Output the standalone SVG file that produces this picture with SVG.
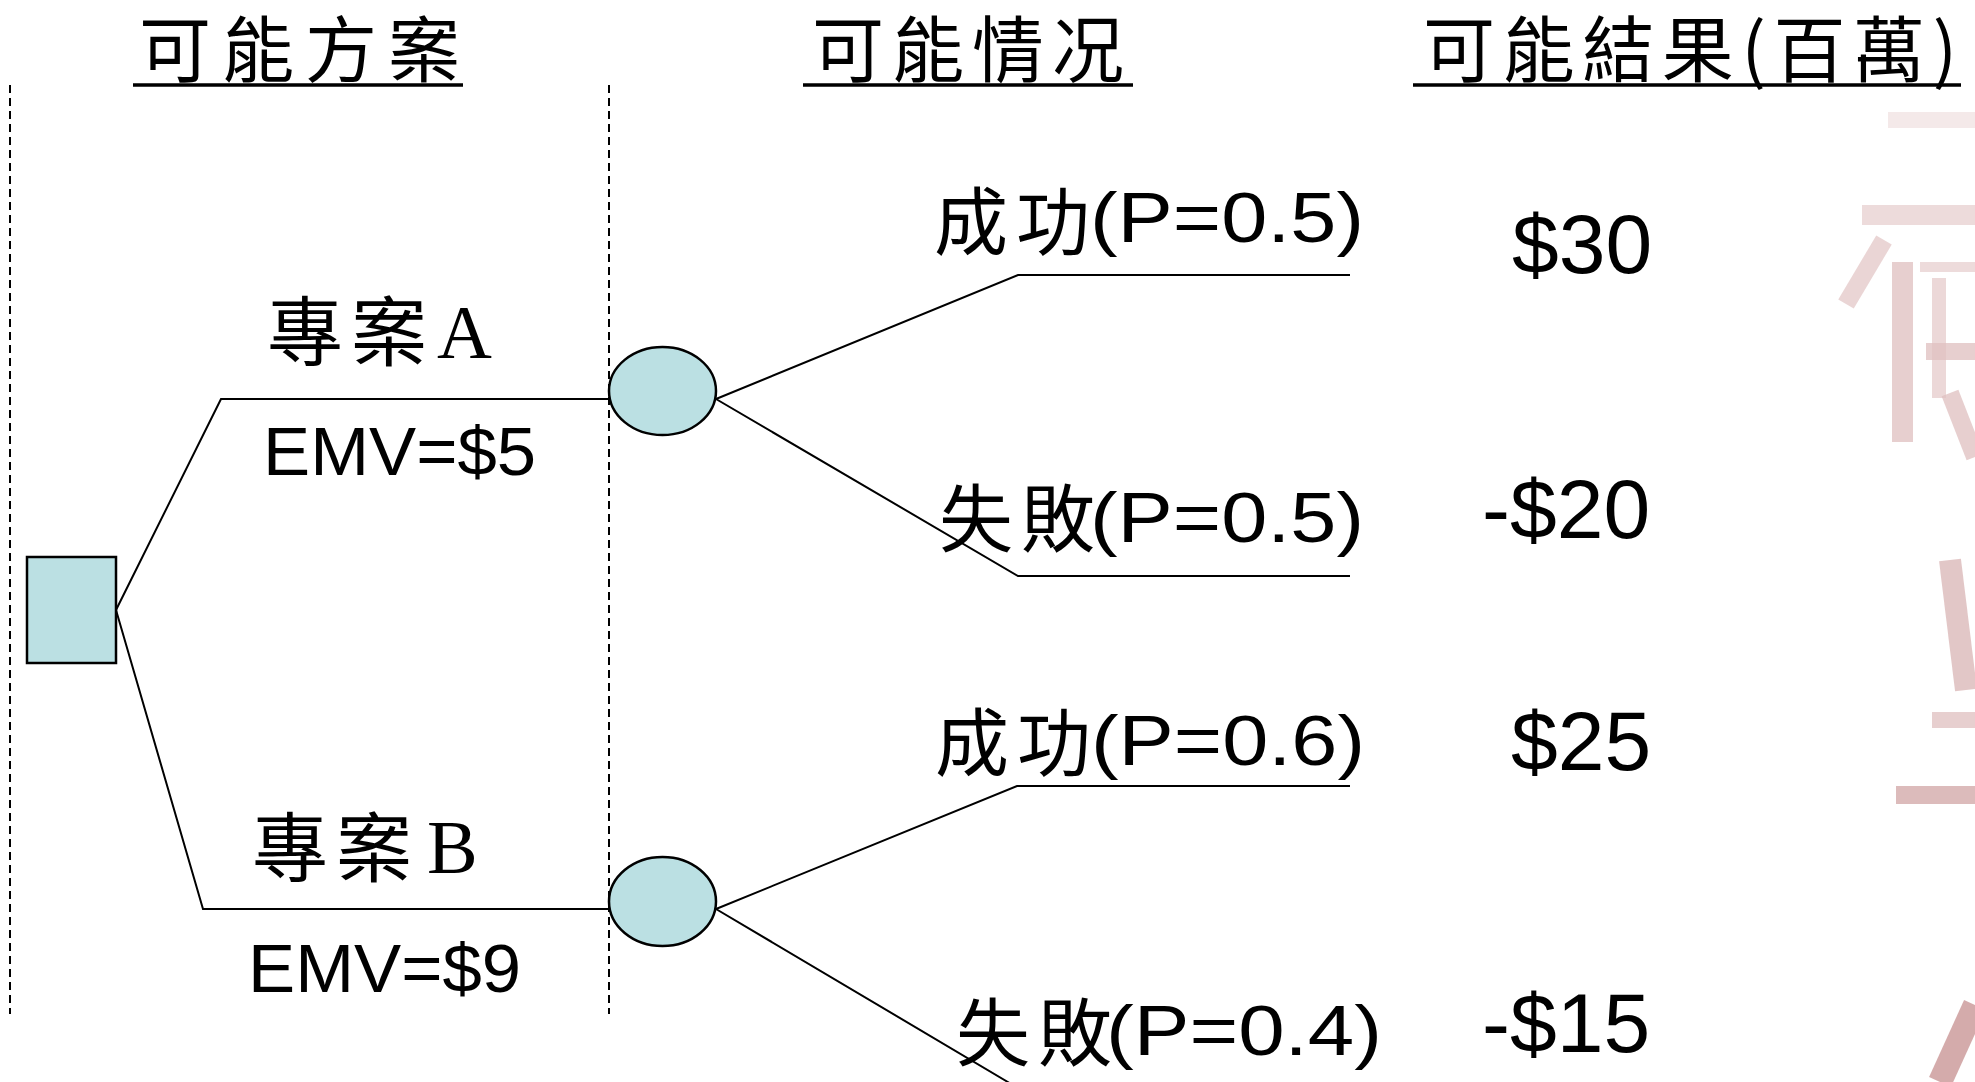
<svg xmlns="http://www.w3.org/2000/svg" width="1975" height="1082" viewBox="0 0 1975 1082">
  <style>
    .cjk { font-family: "Noto Sans CJK TC", "Noto Sans CJK SC", sans-serif; fill: #000; }
    .lat { font-family: "Liberation Sans", Arial, sans-serif; fill: #000; }
    .ser { font-family: "Liberation Serif", "Times New Roman", serif; fill: #000; }
    .head { font-size: 72px; }
    .proj { font-size: 76px; letter-spacing: 8px; }
    .emv { font-size: 68px; }
    .case { font-size: 74px; letter-spacing: 8px; }
    .prob { font-size: 70px; }
    .val { font-size: 84px; }
    .rule { stroke: #000; stroke-width: 3.5; }
    .divider { stroke: #000; stroke-width: 2; stroke-dasharray: 8 5; fill: none; }
    .branch { stroke: #000; stroke-width: 2; fill: none; }
    .node { fill: #BBE0E3; stroke: #000; stroke-width: 2.5; }
    .mark { fill: #D4A9A9; }
  </style>

  <rect width="1975" height="1082" fill="#fff"/>

  <!-- faded seal-script decoration on the right edge -->
  <g id="seal" opacity="0.75">
    <rect class="mark" x="1888" y="112" width="87" height="16" opacity="0.35"/>
    <rect class="mark" x="1862" y="205" width="113" height="20" opacity="0.55"/>
    <path d="M1846 304 L1884 240" stroke="#D4A9A9" stroke-width="18" fill="none" opacity="0.65"/>
    <rect class="mark" x="1892" y="262" width="21" height="180" opacity="0.75"/>
    <rect class="mark" x="1920" y="262" width="55" height="10" opacity="0.55"/>
    <rect class="mark" x="1932" y="278" width="14" height="120" opacity="0.6"/>
    <rect class="mark" x="1926" y="343" width="49" height="17" opacity="0.75"/>
    <path d="M1950 393 L1975 457" stroke="#D4A9A9" stroke-width="18" fill="none" opacity="0.75"/>
    <path d="M1950 560 L1966 690" stroke="#C99494" stroke-width="22" fill="none" opacity="0.7"/>
    <rect x="1932" y="712" width="43" height="16" fill="#C99494" opacity="0.6"/>
    <rect x="1896" y="786" width="79" height="18" fill="#C08585" opacity="0.75"/>
    <path d="M1940 1082 L1975 1005" stroke="#B87474" stroke-width="24" fill="none" opacity="0.8"/>
  </g>

  <!-- column headings -->
  <g id="heading-options">
    <text class="cjk head" x="139" y="76" letter-spacing="11">可能方案</text>
    <line class="rule" x1="133" y1="85" x2="463" y2="85"/>
  </g>
  <g id="heading-states">
    <text class="cjk head" x="812" y="76" letter-spacing="8">可能情况</text>
    <line class="rule" x1="803" y1="85" x2="1133" y2="85"/>
  </g>
  <g id="heading-outcomes">
    <text class="cjk head" x="1423" y="76" textLength="534" lengthAdjust="spacing">可能結果(百萬)</text>
    <line class="rule" x1="1413" y1="85" x2="1961" y2="85"/>
  </g>

  <!-- stage dividers -->
  <g id="dividers">
    <line class="divider" x1="10" y1="85" x2="10" y2="1014"/>
    <line class="divider" x1="609" y1="85" x2="609" y2="1014"/>
  </g>

  <!-- tree branches -->
  <g id="connectors">
    <polyline class="branch" points="116,610 221,399 609,399"/>
    <polyline class="branch" points="116,610 203,909 609,909"/>
    <polyline class="branch" points="716,399 1018,275 1350,275"/>
    <polyline class="branch" points="716,399 1018,576 1350,576"/>
    <polyline class="branch" points="716,909 1017,786 1350,786"/>
    <polyline class="branch" points="716,909 1018,1088 1350,1088"/>
  </g>

  <!-- decision node -->
  <g id="decision">
    <rect class="node" x="27" y="557" width="89" height="106"/>
  </g>

  <!-- project A -->
  <g id="project-a">
    <text class="cjk proj" x="267" y="360">專案</text>
    <text class="ser" font-size="76" x="437" y="358">A</text>
    <text class="lat emv" x="263" y="475" textLength="273" lengthAdjust="spacingAndGlyphs">EMV=$5</text>
  </g>
  <g id="chance-a">
    <ellipse class="node" cx="662.5" cy="391" rx="53.5" ry="44"/>
  </g>

  <!-- project B -->
  <g id="project-b">
    <text class="cjk proj" x="252" y="876">專案</text>
    <text class="ser" font-size="76" x="427" y="873">B</text>
    <text class="lat emv" x="248" y="992" textLength="273" lengthAdjust="spacingAndGlyphs">EMV=$9</text>
  </g>
  <g id="chance-b">
    <ellipse class="node" cx="662.5" cy="901.5" rx="53.5" ry="44.5"/>
  </g>

  <!-- outcome states -->
  <g id="state-a-success">
    <text class="cjk case" x="934" y="249">成功</text>
    <text class="lat prob" x="1090" y="242" textLength="274" lengthAdjust="spacingAndGlyphs">(P=0.5)</text>
  </g>
  <g id="state-a-failure">
    <text class="cjk case" x="939" y="546">失敗</text>
    <text class="lat prob" x="1090" y="542" textLength="274" lengthAdjust="spacingAndGlyphs">(P=0.5)</text>
  </g>
  <g id="state-b-success">
    <text class="cjk case" x="935" y="770">成功</text>
    <text class="lat prob" x="1091" y="765" textLength="274" lengthAdjust="spacingAndGlyphs">(P=0.6)</text>
  </g>
  <g id="state-b-failure">
    <text class="cjk case" x="956" y="1060">失敗</text>
    <text class="lat prob" x="1106" y="1055" textLength="276" lengthAdjust="spacingAndGlyphs">(P=0.4)</text>
  </g>

  <!-- payoffs -->
  <g id="payoffs">
    <text class="lat val" x="1512" y="273">$30</text>
    <text class="lat val" x="1482" y="538">-$20</text>
    <text class="lat val" x="1511" y="770">$25</text>
    <text class="lat val" x="1482" y="1052">-$15</text>
  </g>
</svg>
